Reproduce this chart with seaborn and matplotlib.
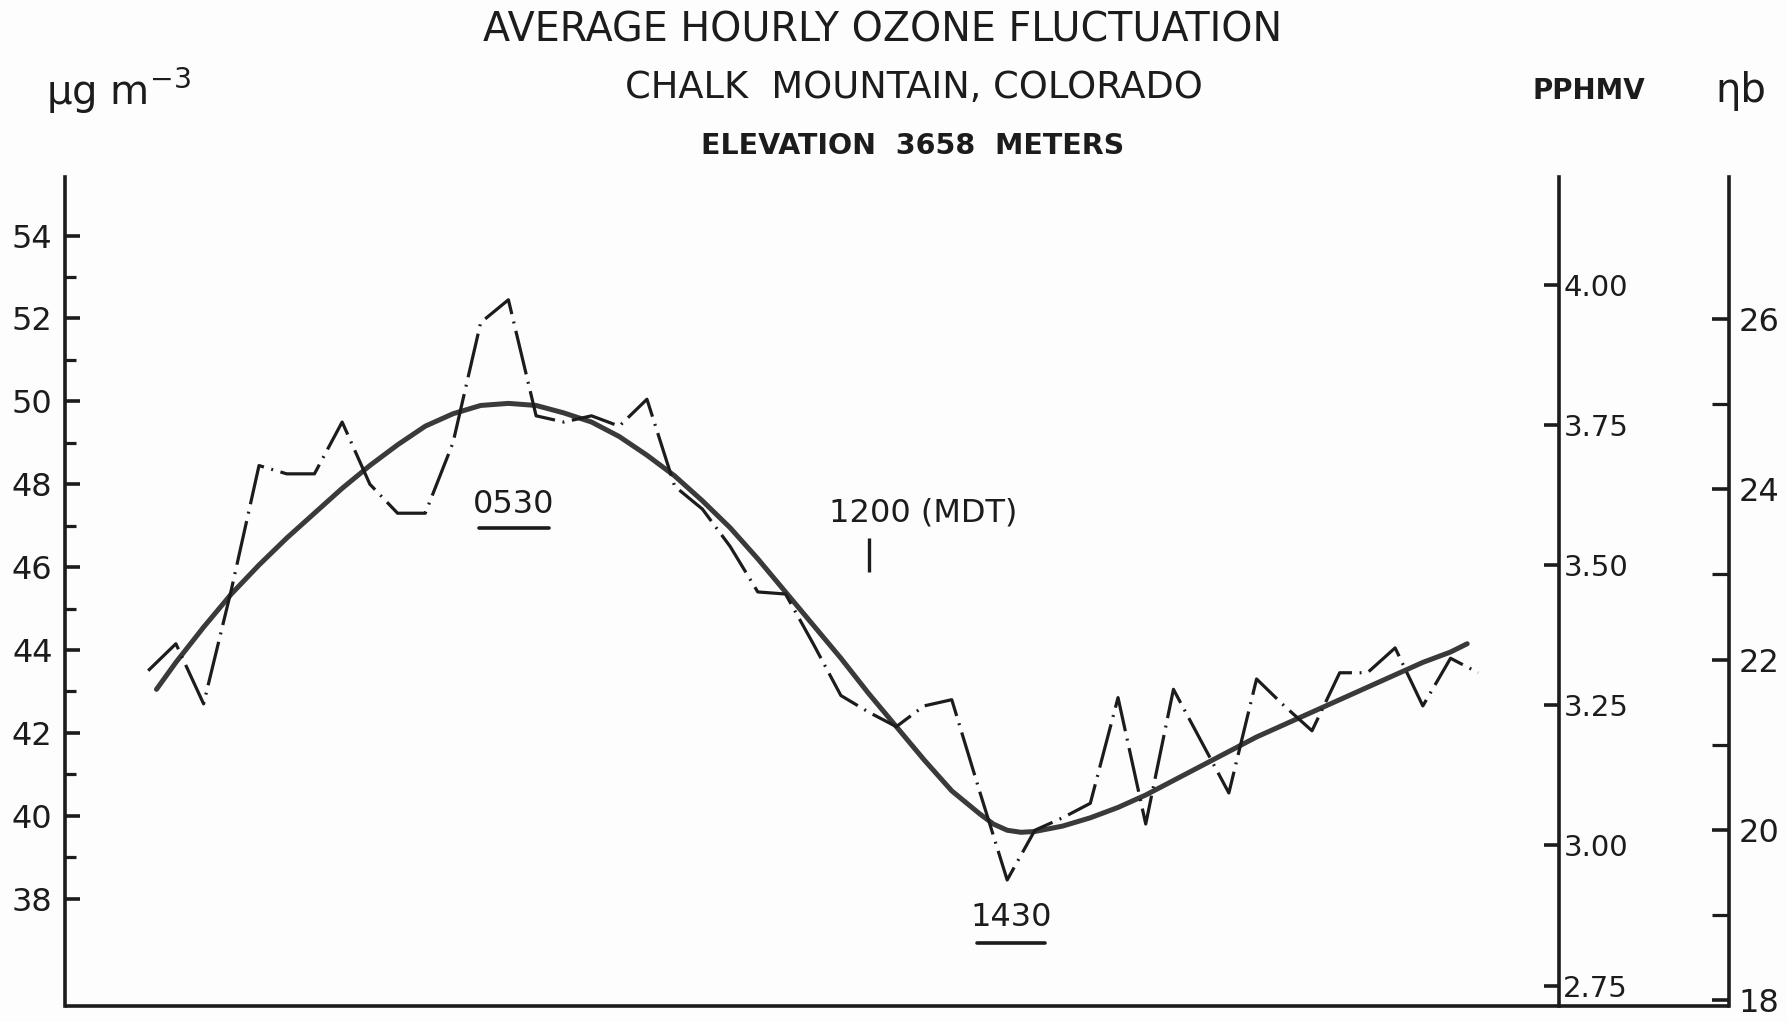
import matplotlib
matplotlib.use("Agg")
import matplotlib.pyplot as plt
import seaborn as sns
from matplotlib.ticker import FixedLocator

# half-hourly average ozone, hours MDT (-1 = 2300 of the day before)
hours = [-1.0, -0.5, 0.0, 0.5, 1.0, 1.5, 2.0, 2.5, 3.0, 3.5, 4.0, 4.5, 5.0, 5.5,
         6.0, 6.5, 7.0, 7.5, 8.0, 8.5, 9.0, 9.5, 10.0, 10.5, 11.0, 11.5, 12.0,
         12.5, 13.0, 13.5, 14.0, 14.5, 15.0, 15.5, 16.0, 16.5, 17.0, 17.5, 18.0,
         18.5, 19.0, 19.5, 20.0, 20.5, 21.0, 21.5, 22.0, 22.5, 23.0]
ozone = [43.5, 44.15, 42.7, 45.45, 48.45, 48.25, 48.25, 49.5, 48.0, 47.3, 47.3,
         49.0, 51.9, 52.45, 49.65, 49.5, 49.65, 49.4, 50.05, 47.95, 47.4, 46.5,
         45.4, 45.35, 44.15, 42.9, 42.5, 42.15, 42.65, 42.8, 40.6, 38.45, 39.65,
         39.95, 40.3, 42.85, 39.8, 43.05, 41.8, 40.55, 43.3, 42.65, 42.05, 43.45,
         43.45, 44.05, 42.65, 43.8, 43.45]

# smoothed curve drawn through the data
fit_hours = [-0.85, -0.5, 0.0, 0.5, 1.0, 1.5, 2.0, 2.5, 3.0, 3.5, 4.0, 4.5, 5.0,
             5.5, 6.0, 6.5, 7.0, 7.5, 8.0, 8.5, 9.0, 9.5, 10.0, 10.5, 11.0, 11.5,
             12.0, 12.5, 13.0, 13.5, 14.0, 14.25, 14.5, 14.75, 15.0, 15.5, 16.0,
             16.5, 17.0, 17.5, 18.0, 18.5, 19.0, 19.5, 20.0, 20.5, 21.0, 21.5,
             22.0, 22.5, 22.8]
fit_vals = [43.05, 43.7, 44.55, 45.35, 46.05, 46.7, 47.3, 47.9, 48.45, 48.95, 49.4,
            49.7, 49.9, 49.95, 49.9, 49.72, 49.5, 49.15, 48.7, 48.2, 47.6, 46.95,
            46.2, 45.4, 44.6, 43.8, 42.95, 42.15, 41.35, 40.6, 40.05, 39.8, 39.65,
            39.6, 39.62, 39.75, 39.95, 40.2, 40.5, 40.85, 41.2, 41.55, 41.9, 42.2,
            42.5, 42.8, 43.1, 43.4, 43.7, 43.95, 44.15]

ug_ticks = [38, 40, 42, 44, 46, 48, 50, 52, 54]
ug_minor = [39, 41, 43, 45, 47, 49, 51, 53]
pphm_ticks = [2.75, 3.00, 3.25, 3.50, 3.75, 4.00]
pphm_labels = ['2.75', '3.00', '3.25', '3.50', '3.75', '4.00']
nb_ticks = [18, 20, 22, 24, 26]
nb_minor = [19, 21, 23, 25]

sns.set_theme(style="white")
plt.rcParams['font.family'] = ['DejaVu Sans']
ink = '#1c1c1c'

fig = plt.figure(figsize=(17.87, 10.22), dpi=100)
fig.patch.set_facecolor('#fdfdfd')
ax = fig.add_axes([0.0364, 0.0153, 0.8361, 0.8118])
ax.set_facecolor('none')

sns.lineplot(x=fit_hours, y=fit_vals, ax=ax, color='#3a3a3a', lw=3.6,
             estimator=None, sort=False)
sns.lineplot(x=hours, y=ozone, ax=ax, color=ink, lw=2.3, estimator=None,
             sort=False, linestyle=(0, (14, 2.4, 0.6, 2.4)))

ax.set_xlim(-2.5, 24.46)
ax.set_ylim(35.40, 55.42)
ax.set_xticks([])
ax.set_xlabel('')
ax.set_ylabel('')
ax.yaxis.set_major_locator(FixedLocator(ug_ticks))
ax.yaxis.set_minor_locator(FixedLocator(ug_minor))
ax.tick_params(axis='y', which='major', direction='in', length=11, width=2.6,
               pad=9, labelsize=23, colors=ink, left=True)
ax.tick_params(axis='y', which='minor', direction='in', length=8, width=2.3,
               colors=ink, left=True)
for s in ['top', 'right', 'bottom']:
    ax.spines[s].set_visible(False)
ax.spines['left'].set_color(ink)
ax.spines['left'].set_linewidth(2.6)
# bottom rule runs across to the outer scale
ax.plot([0, 1.1138], [0, 0], transform=ax.transAxes, clip_on=False,
        color=ink, lw=2.6, solid_capstyle='butt')

# middle scale, parts per hundred million
ax2 = ax.twinx()
ax2.set_facecolor('none')
ax2.set_ylim(2.713, 4.193)
ax2.set_yticks(pphm_ticks)
ax2.set_yticklabels(pphm_labels)
ax2.tick_params(axis='y', direction='in', length=11, width=2.6, pad=3,
                labelsize=21, colors=ink, right=True)
for s in ['top', 'left', 'bottom']:
    ax2.spines[s].set_visible(False)
ax2.spines['right'].set_color(ink)
ax2.spines['right'].set_linewidth(2.6)

# outer scale, nanobar
ax3 = ax.twinx()
ax3.set_facecolor('none')
ax3.set_ylim(17.93, 27.67)
ax3.spines['right'].set_position(('axes', 1.1138))
ax3.yaxis.set_major_locator(FixedLocator(nb_ticks))
ax3.yaxis.set_minor_locator(FixedLocator(nb_minor))
ax3.tick_params(axis='y', which='major', direction='in', length=12, width=2.6,
                pad=7, labelsize=23, colors=ink, right=True)
ax3.tick_params(axis='y', which='minor', direction='in', length=12, width=2.3,
                colors=ink, right=True)
for s in ['top', 'left', 'bottom']:
    ax3.spines[s].set_visible(False)
ax3.spines['right'].set_color(ink)
ax3.spines['right'].set_linewidth(2.6)

# time annotations
ax.text(5.6, 47.52, '0530', ha='center', va='center', fontsize=23, color=ink)
ax.plot([4.97, 6.23], [46.94, 46.94], color=ink, lw=2.6)
ax.text(12.98, 47.3, '1200 (MDT)', ha='center', va='center', fontsize=23, color=ink)
ax.vlines(12, 45.88, 46.7, color=ink, lw=2.4)
ax.text(14.57, 37.54, '1430', ha='center', va='center', fontsize=23, color=ink)
ax.plot([13.95, 15.18], [36.94, 36.94], color=ink, lw=2.6)

fig.text(0.4941, 0.9697, 'AVERAGE HOURLY OZONE FLUCTUATION', ha='center',
         va='center', fontsize=28.5, color=ink)
fig.text(0.5115, 0.9139, 'CHALK  MOUNTAIN, COLORADO', ha='center', va='center',
         fontsize=26.5, color=ink)
fig.text(0.5109, 0.8571, 'ELEVATION  3658  METERS', ha='center', va='center',
         fontsize=20.5, fontweight='bold', color=ink)
fig.text(0.0257, 0.911, 'μg m$^{-3}$', ha='left', va='center', fontsize=29,
         color=ink)
fig.text(0.8892, 0.911, 'PPHMV', ha='center', va='center', fontsize=20,
         fontweight='bold', color=ink)
fig.text(0.9743, 0.911, 'ηb', ha='center', va='center', fontsize=29, color=ink)

fig.savefig('out.png', dpi=100, facecolor=fig.get_facecolor())
